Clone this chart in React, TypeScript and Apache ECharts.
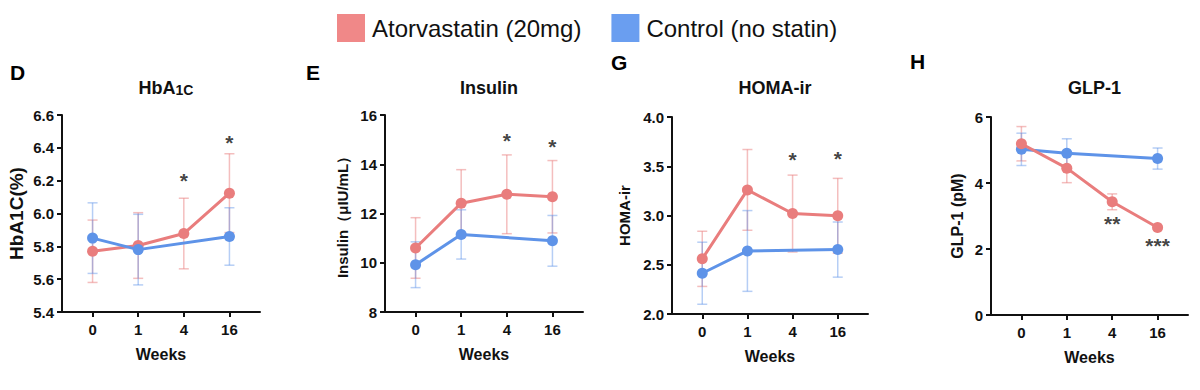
import React, { useEffect, useRef } from "react";
import * as echarts from "echarts";

const weeks = ["0", "1", "4", "16"];
const xPos = [0, 1, 2, 3];

const ATOR = "Atorvastatin (20mg)";
const CTRL = "Control (no statin)";

// Panel D: HbA1C
const hbaAtor = [5.77, 5.805, 5.878, 6.124];
const hbaAtorErr = [0.19, 0.2, 0.215, 0.24];
const hbaCtrl = [5.85, 5.78, null, 5.86];
const hbaCtrlErr = [0.215, 0.215, null, 0.175];
const hbaStars = [[2, 6.2, "*"], [3, 6.43, "*"]];

// Panel E: Insulin
const insAtor = [10.6, 12.42, 12.78, 12.68];
const insAtorErr = [1.23, 1.36, 1.6, 1.47];
const insCtrl = [9.92, 11.15, null, 10.89];
const insCtrlErr = [0.93, 1.0, null, 1.03];
const insStars = [[2, 14.95, "*"], [3, 14.73, "*"]];

// Panel G: HOMA-ir
const homaAtor = [2.56, 3.26, 3.02, 2.997];
const homaAtorErr = [0.28, 0.41, 0.39, 0.38];
const homaCtrl = [2.414, 2.64, null, 2.654];
const homaCtrlErr = [0.315, 0.41, null, 0.28];
const homaStars = [[2, 3.57, "*"], [3, 3.58, "*"]];

// Panel H: GLP-1
const glpAtor = [5.19, 4.45, 3.43, 2.65];
const glpAtorErr = [0.52, 0.44, 0.24, 0.05];
const glpCtrl = [5.02, 4.9, null, 4.74];
const glpCtrlErr = [0.49, 0.44, null, 0.32];
const glpStars = [[2, 2.77, "**"], [3, 2.12, "***"]];

const RED = "#E97D7D";
const BLUE = "#5E93E8";
const RED_ERR = "rgba(233,125,125,0.5)";
const BLUE_ERR = "rgba(94,147,232,0.45)";
const LEG_RED = "#F08888";
const LEG_BLUE = "#6A9EF0";
const FONT = "'Liberation Sans', Arial, Helvetica, sans-serif";

type Panel = {
  letter: string;
  letterX: number;
  letterY: number;
  title: string;
  yName: string;
  yNameSize: number;
  yNameGap: number;
  min: number;
  max: number;
  interval: number;
  decimals: number;
  grid: { left: number; top: number; width: number; height: number };
  ator: (number | null)[];
  atorErr: (number | null)[];
  ctrl: (number | null)[];
  ctrlErr: (number | null)[];
  stars: (number | string)[][];
  ctrlOnTop: boolean;
};

const panels: Panel[] = [
  {
    letter: "D", letterX: 10, letterY: 72, title: "HbA{s|1C}", yName: "HbA1C(%)", yNameSize: 19, yNameGap: 36,
    min: 5.4, max: 6.6, interval: 0.2, decimals: 1,
    grid: { left: 62, top: 115, width: 198, height: 197 },
    ator: hbaAtor, atorErr: hbaAtorErr, ctrl: hbaCtrl, ctrlErr: hbaCtrlErr, stars: hbaStars, ctrlOnTop: true,
  },
  {
    letter: "E", letterX: 306, letterY: 72, title: "Insulin", yName: "Insulin（μIU/mL）", yNameSize: 15, yNameGap: 35,
    min: 8, max: 16, interval: 2, decimals: 0,
    grid: { left: 385, top: 115, width: 198, height: 197 },
    ator: insAtor, atorErr: insAtorErr, ctrl: insCtrl, ctrlErr: insCtrlErr, stars: insStars, ctrlOnTop: false,
  },
  {
    letter: "G", letterX: 611, letterY: 62, title: "HOMA-ir", yName: "HOMA-ir", yNameSize: 15, yNameGap: 40,
    min: 2, max: 4, interval: 0.5, decimals: 1,
    grid: { left: 672, top: 117, width: 196, height: 197 },
    ator: homaAtor, atorErr: homaAtorErr, ctrl: homaCtrl, ctrlErr: homaCtrlErr, stars: homaStars, ctrlOnTop: false,
  },
  {
    letter: "H", letterX: 910, letterY: 61, title: "GLP-1", yName: "GLP-1 (pM)", yNameSize: 16, yNameGap: 26,
    min: 0, max: 6, interval: 2, decimals: 0,
    grid: { left: 991, top: 117, width: 197, height: 198 },
    ator: glpAtor, atorErr: glpAtorErr, ctrl: glpCtrl, ctrlErr: glpCtrlErr, stars: glpStars, ctrlOnTop: false,
  },
];

function pts(vals: (number | null)[]) {
  const out: number[][] = [];
  vals.forEach((v, i) => {
    if (v !== null) out.push([xPos[i], v]);
  });
  return out;
}

function errPts(vals: (number | null)[], errs: (number | null)[]) {
  const out: number[][] = [];
  vals.forEach((v, i) => {
    const e = errs[i];
    if (v !== null && e !== null) out.push([xPos[i], v - e, v + e]);
  });
  return out;
}

function errSeries(idx: number, name: string, data: number[][], color: string) {
  return {
    type: "custom",
    name,
    xAxisIndex: idx,
    yAxisIndex: idx,
    z: 1,
    encode: { x: 0, y: [1, 2] },
    data,
    renderItem: (_p: any, api: any) => {
      const x = api.value(0);
      const top = api.coord([x, api.value(2)]);
      const bot = api.coord([x, api.value(1)]);
      const w = 5;
      const style = { stroke: color, lineWidth: 1.5 };
      return {
        type: "group",
        children: [
          { type: "line", shape: { x1: top[0], y1: top[1], x2: bot[0], y2: bot[1] }, style },
          { type: "line", shape: { x1: top[0] - w, y1: top[1], x2: top[0] + w, y2: top[1] }, style },
          { type: "line", shape: { x1: bot[0] - w, y1: bot[1], x2: bot[0] + w, y2: bot[1] }, style },
        ],
      };
    },
  };
}

function lineSeries(idx: number, name: string, data: number[][], color: string, z: number) {
  return {
    type: "line",
    name,
    xAxisIndex: idx,
    yAxisIndex: idx,
    z,
    data,
    symbol: "circle",
    symbolSize: 11,
    lineStyle: { color, width: 3 },
    itemStyle: { color },
    connectNulls: true,
  };
}

export default function App() {
  const ref = useRef<HTMLDivElement>(null);

  useEffect(() => {
    if (!ref.current) return;
    const chart = echarts.init(ref.current, null, { renderer: "svg" });

    const grids: any[] = [];
    const xAxes: any[] = [];
    const yAxes: any[] = [];
    const series: any[] = [];
    const graphics: any[] = [];

    panels.forEach((p, i) => {
      grids.push({ ...p.grid, containLabel: false });
      xAxes.push({
        type: "value",
        gridIndex: i,
        min: -0.67,
        max: 3.67,
        name: "Weeks",
        nameLocation: "middle",
        nameGap: 34,
        nameTextStyle: { fontFamily: FONT, fontWeight: "bold", fontSize: 16, color: "#111" },
        axisLine: { show: true, onZero: false, lineStyle: { color: "#111", width: 2 } },
        axisTick: { show: true, length: 5, lineStyle: { color: "#111", width: 2 }, customValues: xPos },
        axisLabel: {
          customValues: xPos,
          formatter: (v: number) => weeks[Math.round(v)] ?? "",
          fontFamily: FONT, fontWeight: "bold", fontSize: 15, color: "#111", margin: 10,
        },
        splitLine: { show: false },
      });
      yAxes.push({
        type: "value",
        gridIndex: i,
        min: p.min,
        max: p.max,
        interval: p.interval,
        name: p.yName,
        nameLocation: "middle",
        nameRotate: 90,
        nameGap: p.yNameGap,
        nameTextStyle: { fontFamily: FONT, fontWeight: "bold", fontSize: p.yNameSize, color: "#111" },
        axisLine: { show: true, onZero: false, lineStyle: { color: "#111", width: 2 } },
        axisTick: { show: true, length: 5, lineStyle: { color: "#111", width: 2 } },
        axisLabel: {
          formatter: (v: number) => v.toFixed(p.decimals),
          fontFamily: FONT, fontWeight: "bold", fontSize: 15, color: "#111", margin: 8,
        },
        splitLine: { show: false },
      });

      series.push(errSeries(i, "err-ator-" + i, errPts(p.ator, p.atorErr), RED_ERR));
      series.push(errSeries(i, "err-ctrl-" + i, errPts(p.ctrl, p.ctrlErr), BLUE_ERR));
      series.push(lineSeries(i, ATOR, pts(p.ator), RED, p.ctrlOnTop ? 3 : 4));
      series.push(lineSeries(i, CTRL, pts(p.ctrl), BLUE, p.ctrlOnTop ? 4 : 3));
      series.push({
        type: "scatter",
        name: "stars-" + i,
        xAxisIndex: i,
        yAxisIndex: i,
        z: 5,
        symbolSize: 0,
        data: p.stars,
        label: {
          show: true,
          position: "inside",
          formatter: (q: any) => q.data[2],
          fontFamily: FONT,
          fontWeight: "bold",
          fontSize: 21,
          color: "#111",
        },
      });

      graphics.push({
        type: "text",
        x: p.letterX,
        y: p.letterY,
        style: {
          text: p.letter,
          font: `bold 21px ${FONT}`,
          fill: "#000",
          textVerticalAlign: "middle",
        },
      });
    });

    const titles = panels.map((p) => ({
      text: p.title,
      left: p.grid.left + p.grid.width / 2,
      top: 74,
      textAlign: "center",
      textStyle: {
        fontFamily: FONT,
        fontWeight: "bold",
        fontSize: 18,
        color: "#111",
        rich: { s: { fontFamily: FONT, fontWeight: "bold", fontSize: 14, color: "#111", verticalAlign: "bottom" } },
      },
    }));

    chart.setOption({
      animation: false,
      backgroundColor: "#fff",
      title: titles,
      legend: {
        left: 332,
        top: 9,
        itemWidth: 28,
        itemHeight: 28,
        itemGap: 30,
        icon: "rect",
        data: [
          { name: ATOR, itemStyle: { color: LEG_RED } },
          { name: CTRL, itemStyle: { color: LEG_BLUE } },
        ],
        textStyle: { fontFamily: FONT, fontSize: 24, color: "#111", padding: [0, 0, 0, 2] },
        selectedMode: false,
      },
      grid: grids,
      xAxis: xAxes,
      yAxis: yAxes,
      series,
      graphic: graphics,
    });

    return () => chart.dispose();
  }, []);

  return <div ref={ref} style={{ width: 1200, height: 390, position: "absolute", left: 0, top: 0 }} />;
}
